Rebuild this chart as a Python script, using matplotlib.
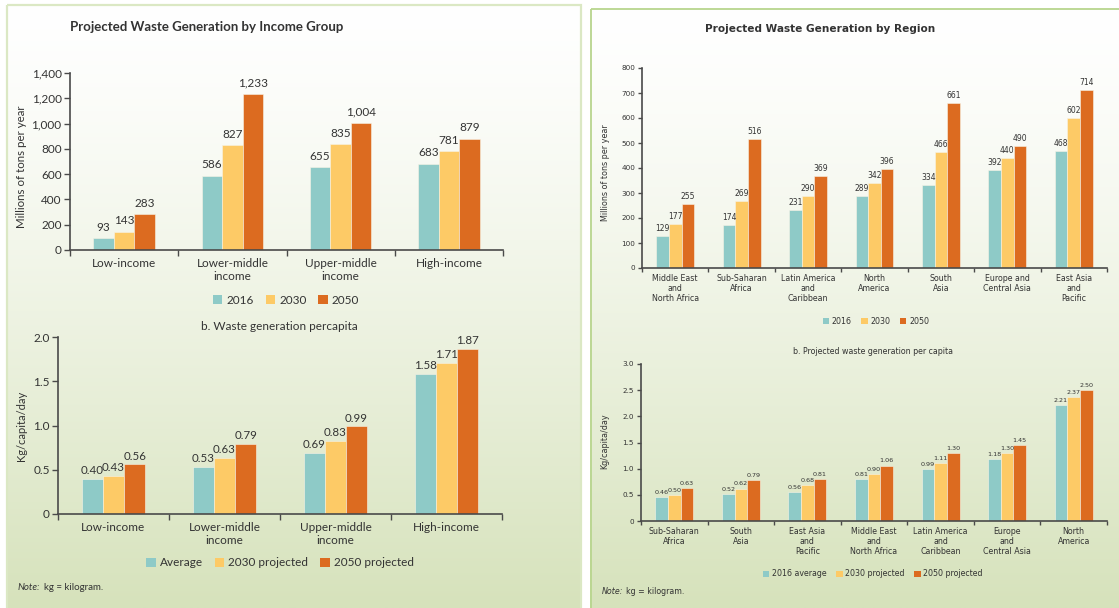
import numpy as np
import matplotlib
matplotlib.use("Agg")
import matplotlib.pyplot as plt
from matplotlib.patches import Rectangle, Patch
from matplotlib.ticker import FuncFormatter, FixedLocator

# ---- data -----------------------------------------------------------------
income_groups = ["Low-income", "Lower-middle\nincome", "Upper-middle\nincome", "High-income"]
income_2016 = [93, 586, 655, 683]
income_2030 = [143, 827, 835, 781]
income_2050 = [283, 1233, 1004, 879]

income_pc_avg = [0.40, 0.53, 0.69, 1.58]
income_pc_2030 = [0.43, 0.63, 0.83, 1.71]
income_pc_2050 = [0.56, 0.79, 0.99, 1.87]

regions = ["Middle East\nand\nNorth Africa", "Sub-Saharan\nAfrica", "Latin America\nand\nCaribbean",
           "North\nAmerica", "South\nAsia", "Europe and\nCentral Asia", "East Asia\nand\nPacific"]
region_2016 = [129, 174, 231, 289, 334, 392, 468]
region_2030 = [177, 269, 290, 342, 466, 440, 602]
region_2050 = [255, 516, 369, 396, 661, 490, 714]

regions_pc = ["Sub-Saharan\nAfrica", "South\nAsia", "East Asia\nand\nPacific",
              "Middle East\nand\nNorth Africa", "Latin America\nand\nCaribbean",
              "Europe\nand\nCentral Asia", "North\nAmerica"]
region_pc_2016 = [0.46, 0.52, 0.56, 0.81, 0.99, 1.18, 2.21]
region_pc_2030 = [0.50, 0.62, 0.68, 0.90, 1.11, 1.30, 2.37]
region_pc_2050 = [0.63, 0.79, 0.81, 1.06, 1.30, 1.45, 2.50]

# ---- style ----------------------------------------------------------------
C_TEAL = "#8ecac7"
C_YELLOW = "#fdca66"
C_ORANGE = "#dc6b20"
COLORS = [C_TEAL, C_YELLOW, C_ORANGE]
TXT = "#333333"
AXC = "#4a4a4a"
LEFT_FONT = ["Lato", "DejaVu Sans"]
RIGHT_FONT = ["DejaVu Sans"]

W, H = 1119, 608
fig = plt.figure(figsize=(W / 100, H / 100), dpi=100)
fig.patch.set_facecolor("white")


def px_axes(x0, y0, x1, y1, **kw):
    """Axes placed by pixel box (top-left origin)."""
    return fig.add_axes([x0 / W, 1 - y1 / H, (x1 - x0) / W, (y1 - y0) / H], **kw)


def fx(x):
    return x / W


def fy(y):
    return 1 - y / H


# ---- panel backgrounds ----------------------------------------------------
bg = px_axes(0, 0, W, H)
bg.set_xlim(0, W)
bg.set_ylim(H, 0)
bg.axis("off")
top = np.array([1.0, 1.0, 1.0])
bottom = np.array([0xd6, 0xe2, 0xbb]) / 255.0
t = np.linspace(0, 1, 256) ** 1.3
grad = (top[None, :] * (1 - t[:, None]) + bottom[None, :] * t[:, None])[:, None, :]
bg.imshow(grad, extent=(7, 581, H, 5), aspect="auto", zorder=0)
bg.imshow(grad, extent=(590, W, H, 9), aspect="auto", zorder=0)
bg.add_patch(Rectangle((7, 5), 574, 620, fill=False, ec="#dbe8c4", lw=1.6, zorder=1))
bg.add_patch(Rectangle((590.5, 9), 540, 620, fill=False, ec="#b8d58e", lw=1.3, zorder=1))


def bar_panel(box, cats, series, ylim, yticks, yfmt, lblfmt, fonts, fs_tick, fs_val,
              fs_cat, tick_len, cat_pad, val_off):
    ax = px_axes(*box)
    ax.set_facecolor("none")
    n = len(cats)
    x = np.arange(n) + 0.5
    w = 0.19
    for k, (vals, col) in enumerate(zip(series, COLORS)):
        pos = x + (k - 1) * w
        ax.bar(pos, vals, width=w, color=col, edgecolor="#f7f3e6", linewidth=0.4, zorder=2)
        for xp, v in zip(pos, vals):
            ax.annotate(lblfmt(v), (xp, v), xytext=(0, val_off), textcoords="offset points",
                        ha="center", va="bottom", fontsize=fs_val, color=TXT, family=fonts)
    ax.set_xlim(0, n)
    ax.set_ylim(*ylim)
    ax.set_yticks(yticks)
    ax.yaxis.set_major_formatter(FuncFormatter(yfmt))
    ax.xaxis.set_major_locator(FixedLocator(np.arange(n + 1)))
    ax.xaxis.set_major_formatter(FuncFormatter(lambda v, p: ""))
    ax.xaxis.set_minor_locator(FixedLocator(x))
    ax.set_xticklabels(cats, minor=True)
    ax.tick_params(axis="x", which="major", length=tick_len, width=1, color=AXC, direction="out")
    ax.tick_params(axis="x", which="minor", length=0, pad=cat_pad, labelsize=fs_cat, labelcolor=TXT)
    ax.tick_params(axis="y", length=tick_len, width=1, color=AXC, labelsize=fs_tick,
                   labelcolor=TXT, pad=2)
    for lab in ax.get_xticklabels(minor=True) + ax.get_yticklabels():
        lab.set_family(fonts)
    for lab in ax.get_xticklabels(minor=True):
        lab.set_linespacing(1.15)
    for s in ("top", "right"):
        ax.spines[s].set_visible(False)
    for s in ("left", "bottom"):
        ax.spines[s].set_color(AXC)
        ax.spines[s].set_linewidth(1.2)
    return ax


def legend(labels, cx, cy, fonts, fs, spacing):
    handles = [Patch(facecolor=c, edgecolor="none") for c in COLORS]
    fig.legend(handles, labels, loc="center", bbox_to_anchor=(fx(cx), fy(cy)), ncol=3,
               frameon=False, handlelength=0.8, handleheight=0.8, handletextpad=0.35,
               columnspacing=spacing, borderpad=0,
               prop={"family": fonts, "size": fs}, labelcolor=TXT)


renderer = fig.canvas.get_renderer()


def note(x, y, fonts, fs):
    head = fig.text(fx(x), fy(y), "Note:", fontsize=fs, style="italic", family=fonts,
                    color=TXT, va="center", ha="left")
    width = head.get_window_extent(renderer=renderer).width
    fig.text(fx(x + width + fs * 0.45), fy(y), "kg = kilogram.", fontsize=fs, family=fonts,
             color=TXT, va="center", ha="left")


comma = lambda v, p: f"{int(v):,}"
dec1 = lambda v, p: "0" if v == 0 else f"{v:.1f}"

# ---- left: by income group ------------------------------------------------
fig.text(fx(207), fy(27), "Projected Waste Generation by Income Group", fontsize=9.5,
         fontweight="bold", family=LEFT_FONT, color=TXT, ha="center", va="center")
bar_panel((70, 73, 503, 250), income_groups, [income_2016, income_2030, income_2050],
          (0, 1400), range(0, 1401, 200), comma, lambda v: f"{v:,}", LEFT_FONT,
          8.5, 8.5, 8.5, 4, 6, 4)
fig.text(fx(22), fy(167), "Millions of tons per year", rotation=90, fontsize=8.3,
         family=LEFT_FONT, color=TXT, ha="center", va="center")
legend(["2016", "2030", "2050"], 286, 300, LEFT_FONT, 8.5, 1.0)

fig.text(fx(279), fy(327), "b. Waste generation percapita", fontsize=8.5,
         family=LEFT_FONT, color=TXT, ha="center", va="center")
bar_panel((58, 337, 502, 514), income_groups, [income_pc_avg, income_pc_2030, income_pc_2050],
          (0, 2.0), [0, 0.5, 1.0, 1.5, 2.0], dec1, lambda v: f"{v:.2f}", LEFT_FONT,
          8.5, 8.3, 8.5, 4, 6, 2)
fig.text(fx(22), fy(426), "Kg/capita/day", rotation=90, fontsize=8,
         family=LEFT_FONT, color=TXT, ha="center", va="center")
legend(["Average", "2030 projected", "2050 projected"], 280, 563, LEFT_FONT, 8.5, 1.0)
note(18, 588, LEFT_FONT, 7)

# ---- right: by region -----------------------------------------------------
fig.text(fx(820), fy(29), "Projected Waste Generation by Region", fontsize=7.6,
         fontweight="bold", family=RIGHT_FONT, color=TXT, ha="center", va="center")
bar_panel((642, 68, 1107, 268), regions, [region_2016, region_2030, region_2050],
          (0, 800), range(0, 801, 100), comma, lambda v: f"{v}", RIGHT_FONT,
          5.2, 5.5, 5.7, 3, 4, 2)
fig.text(fx(605), fy(173), "Millions of tons per year", rotation=90, fontsize=5.8,
         family=RIGHT_FONT, color=TXT, ha="center", va="center")
legend(["2016", "2030", "2050"], 876, 321, RIGHT_FONT, 5.7, 1.2)

fig.text(fx(873), fy(351), "b. Projected waste generation per capita", fontsize=5.7,
         family=RIGHT_FONT, color=TXT, ha="center", va="center")
bar_panel((641, 364, 1107, 521), regions_pc, [region_pc_2016, region_pc_2030, region_pc_2050],
          (0, 3.0), [0, 0.5, 1.0, 1.5, 2.0, 2.5, 3.0], dec1, lambda v: f"{v:.2f}", RIGHT_FONT,
          5.2, 4.6, 5.7, 3, 4, 1.5)
fig.text(fx(605), fy(441), "Kg/capita/day", rotation=90, fontsize=5.8,
         family=RIGHT_FONT, color=TXT, ha="center", va="center")
legend(["2016 average", "2030 projected", "2050 projected"], 873, 574, RIGHT_FONT, 5.7, 1.2)
note(602, 592, RIGHT_FONT, 5.7)

fig.savefig("out.png", dpi=100, facecolor=fig.get_facecolor())
